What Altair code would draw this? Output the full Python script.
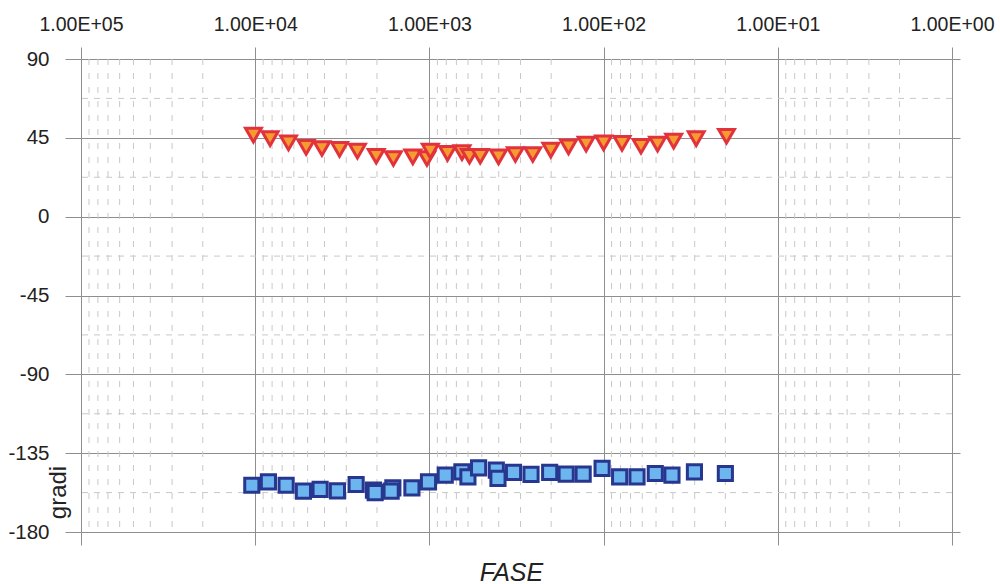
import altair as alt
import pandas as pd

# Phase readings of the two components (frequency in Hz, phase in degrees)
tri_freq = [10240, 8210, 6440, 5100, 4140, 3280, 2590, 2020, 1610, 1245,
            1033, 988, 787, 650, 589, 511, 401, 321, 255, 201,
            159, 126, 100, 78.4, 61, 49, 39.6, 29.4, 19.7]
tri_phase = [46.5, 44.6, 42.1, 39.5, 38.9, 38.4, 37.4, 34.5, 33.2, 34.1,
             33.2, 37.4, 36.1, 36.6, 34.5, 34.5, 34.1, 35.5, 35.5, 38.0,
             39.8, 41.4, 42.1, 41.8, 40.2, 41.4, 43.1, 44.6, 45.9]

sq_freq = [10460, 8397, 6645, 5287, 4239, 3372, 2634, 2095, 2048, 1621,
           1658, 1260, 1012, 811, 651, 601, 522, 413, 404, 329,
           261, 204, 164, 131, 102, 80.9, 64.3, 50.5, 40.5, 30.1, 20.0]
sq_phase = [-153.3, -151.4, -153.3, -156.7, -155.7, -156.5, -152.9, -156.1, -157.5, -154.8,
            -156.7, -154.8, -151.4, -147.5, -145.7, -148.5, -143.4, -144.7, -149.4, -146.0,
            -147.1, -146.0, -147.0, -147.0, -143.7, -148.5, -148.5, -146.6, -147.5, -145.7, -146.6]

# Axis ticks and grid positions
x_major = [100000, 10000, 1000, 100, 10, 1]
x_minor = [m * 10 ** e for e in range(0, 5) for m in range(2, 10)]
y_major = [-180, -135, -90, -45, 0, 45, 90]
y_minor = [-157.5, -112.5, -67.5, -22.5, 22.5, 67.5]

FONT = "Liberation Sans"
MAJOR = "#8e8e8e"
MINOR = "#c8c8c8"
TEXT = "#222222"

xscale = alt.Scale(type="log", domain=[1, 100000], reverse=True, nice=False)
yscale = alt.Scale(domain=[-180, 90], nice=False, zero=False)

tri_df = pd.DataFrame({"freq": tri_freq, "phase": tri_phase})
sq_df = pd.DataFrame({"freq": sq_freq, "phase": sq_phase})
xminor_df = pd.DataFrame({"freq": x_minor})
yminor_df = pd.DataFrame({"phase": y_minor})

vminor = alt.Chart(xminor_df).mark_rule(
    color=MINOR, strokeWidth=1, strokeDash=[6, 8]
).encode(x=alt.X("freq:Q", scale=xscale, axis=None))

hminor = alt.Chart(yminor_df).mark_rule(
    color=MINOR, strokeWidth=1, strokeDash=[6, 6]
).encode(y=alt.Y("phase:Q", scale=yscale, axis=None))

top_axis = alt.Axis(
    orient="top", values=x_major, title=None,
    labelExpr="'1.00E+0' + round(log(datum.value) / LN10)",
    labelFont=FONT, labelFontSize=19.5, labelColor=TEXT,
    labelFlush=False, labelOverlap=False, labelPadding=13,
    grid=True, gridColor=MAJOR, gridWidth=1,
    ticks=True, tickColor=MAJOR, tickSize=12, domain=False,
)
left_axis = alt.Axis(
    orient="left", values=y_major, title="gradi",
    labelExpr="'' + datum.value",
    labelFont=FONT, labelFontSize=20.5, labelColor=TEXT,
    labelFlush=False, labelOverlap=False, labelPadding=16,
    grid=True, gridColor=MAJOR, gridWidth=1,
    ticks=True, tickColor=MAJOR, tickSize=16, domain=False,
    titleFont=FONT, titleFontSize=24, titleFontWeight="normal", titleColor=TEXT,
    titleAngle=270, titleX=-15.5, titleY=433, titleAlign="center",
    titleBaseline="alphabetic",
)
bottom_axis = alt.Axis(
    orient="bottom", values=x_major, title="FASE", labels=False,
    grid=False, ticks=True, tickColor=MAJOR, tickSize=13, domain=False,
    titleFont=FONT, titleFontSize=25, titleFontStyle="italic",
    titleFontWeight="normal", titleColor=TEXT,
    titleX=430, titleY=48, titleBaseline="alphabetic",
)
right_axis = alt.Axis(
    orient="right", values=y_major, title=None, labels=False,
    grid=False, ticks=True, tickColor=MAJOR, tickSize=8, domain=False,
)

triangles = alt.Chart(tri_df).mark_point(
    shape="triangle-down", filled=True, size=250, opacity=1,
    fill="#f59b30", stroke="#e2323c", strokeWidth=3,
).encode(
    x=alt.X("freq:Q", scale=xscale, axis=top_axis),
    y=alt.Y("phase:Q", scale=yscale, axis=left_axis),
)

squares = alt.Chart(sq_df).mark_point(
    shape="square", filled=True, size=200, opacity=1,
    fill="#6db5ee", stroke="#27378f", strokeWidth=3,
).encode(
    x=alt.X("freq:Q", scale=xscale, axis=bottom_axis),
    y=alt.Y("phase:Q", scale=yscale, axis=right_axis),
)

chart = alt.layer(vminor, hminor, squares, triangles).resolve_axis(
    x="independent", y="independent"
).properties(
    width=871, height=473,
    autosize=alt.AutoSizeParams(type="none"),
    padding={"left": 81, "top": 59, "right": 48, "bottom": 52},
    background="white",
).configure_view(
    stroke=None
)

chart.save("out.html", embed_options={"renderer": "svg", "actions": False})
